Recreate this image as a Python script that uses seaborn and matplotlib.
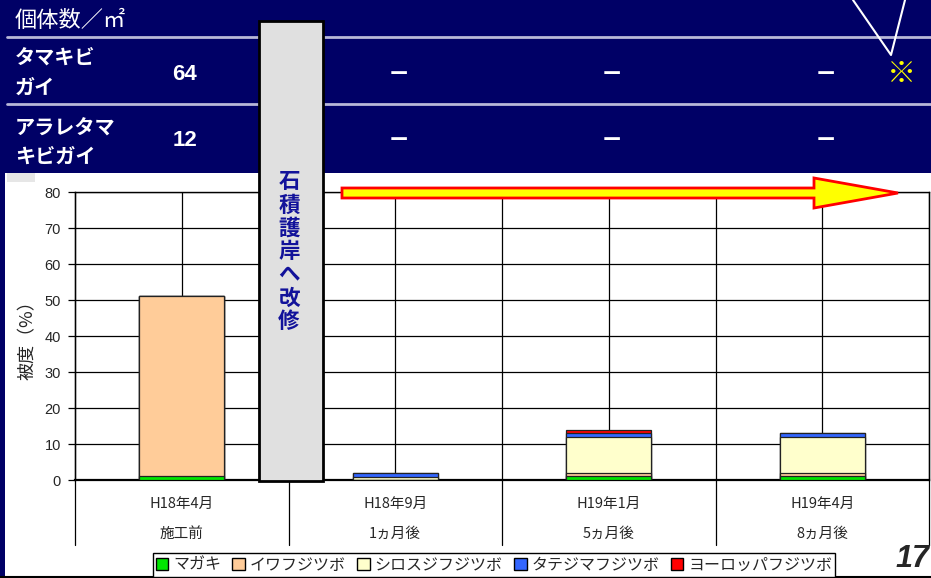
import matplotlib
matplotlib.use("Agg")
import numpy as np
import pandas as pd
import matplotlib.pyplot as plt
import seaborn as sns
from matplotlib.patches import Rectangle, Polygon, Patch
from matplotlib.lines import Line2D
import matplotlib.transforms as mtransforms

# ---------------- data ----------------
dates = ["H18年4月", "H18年9月", "H19年1月", "H19年4月"]
phases = ["施工前", "1ヵ月後", "5ヵ月後", "8ヵ月後"]
species = ["マガキ", "イワフジツボ", "シロスジフジツボ", "タテジマフジツボ", "ヨーロッパフジツボ"]
magaki = [1, 0, 1, 1]
iwafujitsubo = [50, 0, 1, 1]
shirosuji = [0, 0.8, 10, 10]
tatejima = [0, 1.2, 1, 1]
europe = [0, 0, 1, 0]
colors = ["#00e600", "#ffcc99", "#ffffcc", "#3366ff", "#ff0000"]

yticks = [0, 10, 20, 30, 40, 50, 60, 70, 80]
ylabel = "被度（%）"

header_title = "個体数／㎡"
row_names = [["タマキビ", "ガイ"], ["アラレタマ", "キビガイ"]]
row_values = [["64", "－", "－", "－"], ["12", "－", "－", "－"]]
note_mark = "※"
banner_text = "石積護岸へ改修"
page_no = "17"

# ---------------- style ----------------
sns.set_style("white")
plt.rcParams["font.family"] = ["Noto Sans CJK JP", "DejaVu Sans"]

W, H = 931, 578
fig = plt.figure(figsize=(W / 100, H / 100), dpi=100)
fig.patch.set_facecolor("white")


def fx(px):
    return px / W


def fy(py):
    return 1 - py / H


ax = fig.add_axes([fx(75), fy(480), 854 / W, 288 / H])

df = pd.DataFrame({"date": dates})
series = [magaki, iwafujitsubo, shirosuji, tatejima, europe]
cum = np.cumsum(np.array(series, dtype=float), axis=0)
for k in range(len(species)):
    df[f"cum{k}"] = cum[k]

for k in reversed(range(len(species))):
    sns.barplot(data=df, x="date", y=f"cum{k}", order=dates, color=colors[k],
                saturation=1, width=0.4, edgecolor="#222222", linewidth=0.9,
                ax=ax, zorder=3)

ax.set_xlim(-0.5, len(dates) - 0.5)
ax.set_ylim(0, 80)
ax.set_yticks(yticks)
ax.set_yticklabels([str(v) for v in yticks], family=["Liberation Sans", "DejaVu Sans"],
                   fontsize=10.5)
ax.set_xticks(range(len(dates)))
ax.set_xticklabels([""] * len(dates))
ax.set_xlabel("")
ax.set_axisbelow(True)
ax.grid(True, axis="both", color="black", linewidth=0.9)
ax.tick_params(axis="y", direction="out", length=5, width=0.9, color="black", pad=5,
               left=True)
ax.tick_params(axis="x", length=0)
for s in ["top", "right", "left"]:
    ax.spines[s].set_color("black")
    ax.spines[s].set_linewidth(1.0)
ax.spines["bottom"].set_color("black")
ax.spines["bottom"].set_linewidth(1.6)

ax.set_ylabel(ylabel, fontsize=13)
ax.yaxis.set_label_coords((37 - 75) / 854, 0.5)

# category separators (extending into the label area)
xtr = ax.get_xaxis_transform()
for i in range(len(dates) + 1):
    b = i - 0.5
    ax.add_line(Line2D([b, b], [-(545 - 480) / 288, 1], transform=xtr, color="black",
                       lw=0.9, clip_on=False, zorder=4))
for i, (d, p) in enumerate(zip(dates, phases)):
    ax.text(i, -(504 - 480) / 288, d, transform=xtr, ha="center", va="center", fontsize=10.5)
    ax.text(i, -(534 - 480) / 288, p, transform=xtr, ha="center", va="center", fontsize=10.5)

# ---------------- header band ----------------
navy = "#000066"
fig.patches.append(Rectangle((0, fy(173)), 1, 173 / H, transform=fig.transFigure,
                             facecolor=navy, edgecolor="none", zorder=1))
fig.patches.append(Rectangle((0, 0), fx(5), fy(173), transform=fig.transFigure,
                             facecolor=navy, edgecolor="none", zorder=1))
fig.patches.append(Rectangle((fx(7), fy(182)), fx(28), 9 / H, transform=fig.transFigure,
                             facecolor="#e6e6e6", edgecolor="none", zorder=1))
for yy in [37, 104]:
    fig.lines.append(Line2D([fx(7), 1], [fy(yy), fy(yy)], transform=fig.transFigure,
                            color="#b8b8d8", lw=2, zorder=2))

fig.text(fx(15), fy(20), header_title, color="white", fontsize=16, ha="left", va="center")

name_y = [[57, 87], [128, 156]]
val_y = [74, 141]
htr = mtransforms.blended_transform_factory(ax.transData, fig.transFigure)
for r in range(2):
    for line, yy in zip(row_names[r], name_y[r]):
        fig.text(fx(15), fy(yy), line, color="white", fontsize=14.5, fontweight="bold",
                 ha="left", va="center")
    for c, v in enumerate(row_values[r]):
        if c == 0:
            fig.text(c + 0.015, fy(val_y[r]), v, transform=htr, color="white",
                     fontsize=16, fontweight="bold", ha="center", va="center",
                     family=["Liberation Sans Narrow", "Liberation Sans", "DejaVu Sans"])
        else:
            fig.text(c + 0.015, fy(val_y[r]), v, transform=htr, color="white",
                     fontsize=16, fontweight="heavy", ha="center", va="center")

fig.text(fx(901), fy(74), note_mark, color="#ffff00", fontsize=21, fontweight="bold",
         ha="center", va="center")
fig.lines.append(Line2D([fx(853), fx(891), fx(905)], [fy(0), fy(55), fy(0)],
                        transform=fig.transFigure, color="white", lw=1.5, zorder=3))

# ---------------- gray banner ----------------
fig.patches.append(Rectangle((fx(259), fy(481)), 64 / W, 460 / H, transform=fig.transFigure,
                             facecolor="#e0e0e0", edgecolor="black", lw=2, zorder=5))
for j, ch in enumerate(banner_text):
    fig.text(fx(289), fy(182 + 23.2 * j), ch, color="#12129a", fontsize=15.5,
             fontweight="bold", ha="center", va="center", zorder=6)

# ---------------- arrow ----------------
arrow_pts = [(342, 188), (814, 188), (814, 178), (898, 193), (814, 208), (814, 198), (342, 198)]
fig.patches.append(Polygon([(fx(x), fy(y)) for x, y in arrow_pts], closed=True,
                           transform=fig.transFigure, facecolor="#ffff00",
                           edgecolor="#ff0000", lw=2, zorder=5))

# ---------------- legend ----------------
handles = [Patch(facecolor=c, edgecolor="black", lw=1) for c in colors]
leg = fig.legend(handles, species, loc="center", bbox_to_anchor=(fx(494), fy(565)),
                 ncol=5, fontsize=11.5, frameon=True, fancybox=False, edgecolor="black",
                 handlelength=0.8, handleheight=0.8, handletextpad=0.3,
                 columnspacing=0.7, borderpad=0.2, borderaxespad=0)
leg.get_frame().set_linewidth(1)
leg.get_frame().set_alpha(1)

# page number and bottom rule
fig.text(fx(930), fy(559), page_no, fontsize=22, fontweight="bold", fontstyle="italic",
         ha="right", va="center",
         family=["Liberation Sans Narrow", "Liberation Sans", "DejaVu Sans"])
fig.lines.append(Line2D([0, 1], [fy(577), fy(577)], transform=fig.transFigure,
                        color="black", lw=1.5, zorder=3))

fig.savefig("out.png", dpi=100)
